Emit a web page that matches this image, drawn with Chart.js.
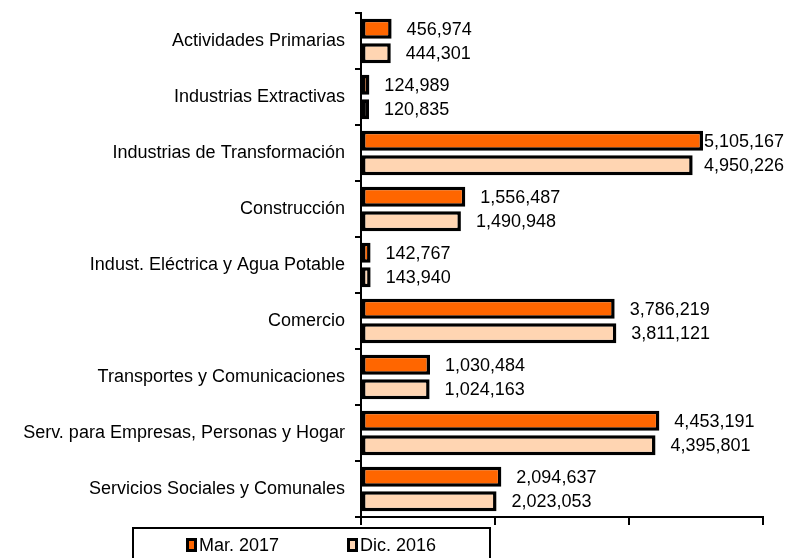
<!DOCTYPE html>
<html>
<head>
<meta charset="utf-8">
<script src="https://cdn.jsdelivr.net/npm/chart.js@4"></script>
<style>
	body { margin: 0; background: #fff; }
	canvas { display: block; }
</style>
</head>
<body>
<canvas id="myChart" width="790" height="558"></canvas>
<script>
let categories = [
	'Actividades Primarias',
	'Industrias Extractivas',
	'Industrias de Transformación',
	'Construcción',
	'Indust. Eléctrica y Agua Potable',
	'Comercio',
	'Transportes y Comunicaciones',
	'Serv. para Empresas, Personas y Hogar',
	'Servicios Sociales y Comunales',
]
let seriesNames = ['Mar. 2017', 'Dic. 2016']
let mar2017 = [456974, 124989, 5105167, 1556487, 142767, 3786219, 1030484, 4453191, 2094637]
let dic2016 = [444301, 120835, 4950226, 1490948, 143940, 3811121, 1024163, 4395801, 2023053]
let xTicks = [0, 2000000, 4000000, 6000000]

const FONT = '"Liberation Sans", Arial, sans-serif'
const colors = ['#FF6600', '#FFD5B2']

// etiquetas de valor al final de cada barra
const valueLabels = {
	id: 'valueLabels',
	afterDatasetsDraw(chart) {
		let ctx = chart.ctx
		ctx.save()
		ctx.font = '18px ' + FONT
		ctx.fillStyle = '#000'
		ctx.textBaseline = 'middle'
		chart.data.datasets.forEach((ds, i) => {
			chart.getDatasetMeta(i).data.forEach((bar, j) => {
				let txt = ds.data[j].toLocaleString('en-US')
				let w = ctx.measureText(txt).width
				let x = Math.min(bar.x + 15, 784 - w)
				ctx.fillText(txt, x, bar.y + 1)
			})
		})
		ctx.restore()
	},
}

// leyenda con caja y linea del eje x un poco mas larga, como en el original
const boxLegend = {
	id: 'boxLegend',
	afterDraw(chart) {
		let ctx = chart.ctx
		let a = chart.chartArea
		ctx.save()
		ctx.strokeStyle = '#000'
		ctx.lineWidth = 2
		ctx.beginPath()
		ctx.moveTo(a.left - 6, a.bottom)
		ctx.lineTo(a.left, a.bottom)
		ctx.stroke()
		ctx.fillStyle = '#fff'
		ctx.fillRect(133, 528, 357, 40)
		ctx.strokeRect(133, 528, 357, 40)
		ctx.font = '18px ' + FONT
		ctx.textBaseline = 'middle'
		let xs = [186, 347]
		seriesNames.forEach((name, i) => {
			ctx.fillStyle = '#000'
			ctx.fillRect(xs[i], 538, 11, 14)
			ctx.fillStyle = colors[i]
			ctx.fillRect(xs[i] + 3, 541, 5, 8)
			ctx.fillStyle = '#000'
			ctx.fillText(name, xs[i] + 13, 546)
		})
		ctx.restore()
	},
}

let ctx = document.getElementById('myChart').getContext('2d')
let myChart = new Chart(ctx, {
	type: 'bar',
	data: {
		labels: categories,
		datasets: [
			{
				label: seriesNames[0],
				data: mar2017,
				backgroundColor: colors[0],
				borderColor: '#000',
				borderWidth: 3.5,
				borderSkipped: false,
				categoryPercentage: 0.88,
				barPercentage: 0.81,
			},
			{
				label: seriesNames[1],
				data: dic2016,
				backgroundColor: colors[1],
				borderColor: '#000',
				borderWidth: 3.5,
				borderSkipped: false,
				categoryPercentage: 0.88,
				barPercentage: 0.81,
			},
		],
	},
	options: {
		indexAxis: 'y',
		responsive: false,
		animation: false,
		layout: { padding: { top: 13, right: 27, left: 0, bottom: 0 } },
		plugins: {
			legend: { display: false },
			tooltip: { enabled: false },
		},
		scales: {
			x: {
				min: 0,
				max: 6000000,
				afterBuildTicks: (scale) => {
					scale.ticks = xTicks.map((v) => ({ value: v }))
				},
				afterFit: (scale) => {
					scale.height = 41
					scale.paddingLeft = 0
					scale.paddingRight = 0
				},
				ticks: { display: false },
				grid: { drawOnChartArea: false, drawTicks: true, tickLength: 8, color: '#000', lineWidth: 2 },
				border: { color: '#000', width: 2 },
			},
			y: {
				afterFit: (scale) => {
					scale.width = 361
					scale.paddingTop = 0
					scale.paddingBottom = 0
				},
				ticks: { color: '#000', font: { family: FONT, size: 18 }, padding: 10 },
				grid: { offset: true, drawOnChartArea: false, drawTicks: true, tickLength: 6, color: '#000', lineWidth: 2 },
				border: { color: '#000', width: 2 },
			},
		},
	},
	plugins: [valueLabels, boxLegend],
})
</script>
</body>
</html>
